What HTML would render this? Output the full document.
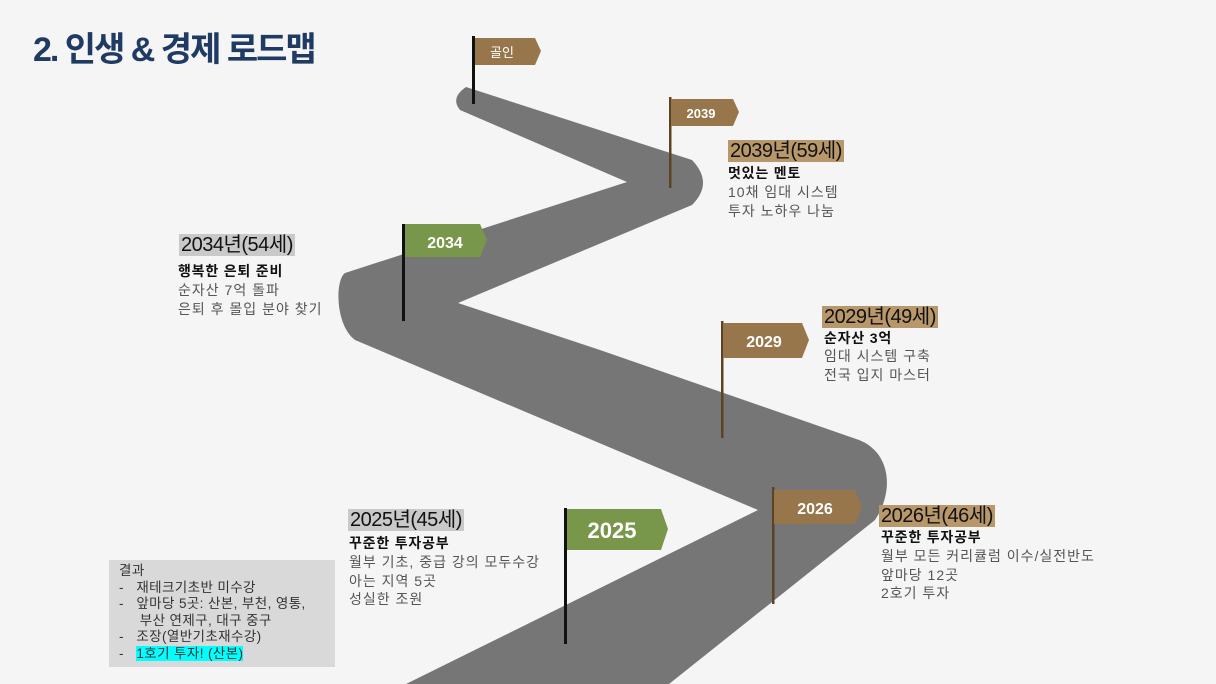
<!DOCTYPE html>
<html><head><meta charset="utf-8"><style>
body{margin:0;width:1216px;height:684px;overflow:hidden;background:#f5f5f5;font-family:"Liberation Sans","Noto Sans CJK KR",sans-serif;position:relative}
.a{position:absolute;white-space:nowrap}
.t{position:absolute;left:33px;top:22px;font-size:34px;font-weight:bold;color:#1f3b63;letter-spacing:-2px}
.h{font-size:20px;color:#111;padding:0 2px;letter-spacing:-0.5px;line-height:22px}
.tan{background:#b8976a}.gr{background:#c9c9c9}
.b{font-size:14px;font-weight:bold;color:#111;line-height:18px;letter-spacing:0.8px}
.l{font-size:14px;color:#555;line-height:18.5px;letter-spacing:1px}
.box{position:absolute;left:109px;top:560px;width:226px;height:107px;background:#d9d9d9;font-size:13.5px;color:#333;line-height:16.6px;padding:3px 0 0 10px;box-sizing:border-box;letter-spacing:0.4px}
</style></head><body>
<svg width="1216" height="684" style="position:absolute;left:0;top:0">
<path d="M466 87 L692 160 Q714 183 692 205 L458 303 L600 350 L859 440 C890 452 895 490 875 520 L669 684 L406 684 L758 510 L355 340 C335 325 335 280 345 273 L627 182 L460 110 Q450 98 466 87 Z" fill="#767676"/>
<g font-family="Liberation Sans, Noto Sans CJK KR, sans-serif" fill="#fff" font-weight="bold" text-anchor="middle">
<rect x="472" y="36" width="3" height="68" fill="#111"/>
<path d="M475 38 H535 L541 51 L535 65 H475Z" fill="#98764b"/>
<text x="502" y="57" font-size="13" font-weight="normal">골인</text>
<rect x="669" y="97" width="2.5" height="91" fill="#5a4423"/>
<path d="M671 99 H733 L739 112 L733 126 H671Z" fill="#98764b"/>
<text x="701" y="118" font-size="13">2039</text>
<rect x="402" y="224" width="3" height="97" fill="#111"/>
<path d="M405 224 H480 L487 240 L480 257 H405Z" fill="#78974a"/>
<text x="445" y="248" font-size="16">2034</text>
<rect x="721" y="321" width="2.5" height="117" fill="#5a4423"/>
<path d="M723 323 H802 L809 340 L802 358 H723Z" fill="#98764b"/>
<text x="764" y="347" font-size="16">2029</text>
<rect x="772" y="487" width="2.5" height="117" fill="#5a4423"/>
<path d="M774 490 H855 L862 507 L855 524 H774Z" fill="#98764b"/>
<text x="815" y="514" font-size="16">2026</text>
<rect x="564" y="508" width="3" height="136" fill="#111"/>
<path d="M567 509 H661 L668 529 L661 550 H567Z" fill="#78974a"/>
<text x="612" y="538" font-size="22">2025</text>
</g>
</svg>
<div class="t">2. 인생 &amp; 경제 로드맵</div>

<div class="a" style="left:728px;top:140px"><span class="h tan">2039년(59세)</span></div>
<div class="a b" style="left:728px;top:164px">멋있는 멘토</div>
<div class="a l" style="left:728px;top:183px">10채 임대 시스템<br>투자 노하우 나눔</div>

<div class="a" style="left:179px;top:234px"><span class="h gr">2034년(54세)</span></div>
<div class="a b" style="left:178px;top:262px">행복한 은퇴 준비</div>
<div class="a l" style="left:178px;top:281px">순자산 7억 돌파<br>은퇴 후 몰입 분야 찾기</div>

<div class="a" style="left:822px;top:306px"><span class="h tan">2029년(49세)</span></div>
<div class="a b" style="left:824px;top:329px">순자산 3억</div>
<div class="a l" style="left:824px;top:347px">임대 시스템 구축<br>전국 입지 마스터</div>

<div class="a" style="left:348px;top:509px"><span class="h gr">2025년(45세)</span></div>
<div class="a b" style="left:349px;top:534px">꾸준한 투자공부</div>
<div class="a l" style="left:349px;top:553px">월부 기초, 중급 강의 모두수강<br>아는 지역 5곳<br>성실한 조원</div>

<div class="a" style="left:879px;top:505px"><span class="h tan">2026년(46세)</span></div>
<div class="a b" style="left:881px;top:528px">꾸준한 투자공부</div>
<div class="a l" style="left:881px;top:547px">월부 모든 커리큘럼 이수/실전반도<br>앞마당 12곳<br>2호기 투자</div>

<div class="box">결과<br>-&nbsp;&nbsp;&nbsp;재테크기초반 미수강<br>-&nbsp;&nbsp;&nbsp;앞마당 5곳: 산본, 부천, 영통,<br>&nbsp;&nbsp;&nbsp;&nbsp;&nbsp;부산 연제구, 대구 중구<br>-&nbsp;&nbsp;&nbsp;조장(열반기초재수강)<br>-&nbsp;&nbsp;&nbsp;<span style="background:#00ffff">1호기 투자! (산본)</span></div>
</body></html>
